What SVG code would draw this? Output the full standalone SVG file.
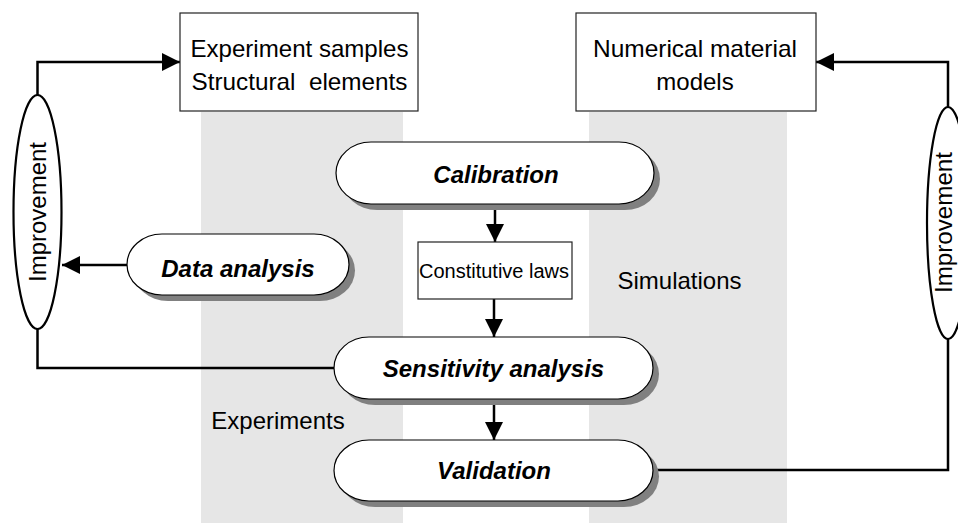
<svg xmlns="http://www.w3.org/2000/svg" width="958" height="526" viewBox="0 0 958 526">
<style>
.band{fill:#e6e6e6}
.box{fill:#fff;stroke:#222;stroke-width:1.2}
.pill{fill:#fff;stroke:#000;stroke-width:1.2}
.shadow{fill:#808080}
.oval{fill:#fff;stroke:#000;stroke-width:2.2}
.t{font-family:"Liberation Sans",Arial,sans-serif;font-size:24px;fill:#000;text-anchor:middle}
.b{font-weight:bold;font-style:italic}
.s{font-size:20px}
.ln{fill:none;stroke:#000;stroke-width:2.5}
</style>
<defs>
<marker id="ah" markerUnits="userSpaceOnUse" markerWidth="19" markerHeight="18" refX="18" refY="9" orient="auto">
<path d="M0,0 L18,9 L0,18 z" fill="#000"/>
</marker>
</defs>
<g id="bands">
<rect class="band" x="201" y="112" width="202" height="411"/>
<rect class="band" x="589" y="112" width="198" height="411"/>
</g>
<g id="connectors">
<path class="ln" d="M37.5,95 V62 H180" marker-end="url(#ah)"/>
<path class="ln" d="M948,107 V62 H816" marker-end="url(#ah)"/>
<path class="ln" d="M127,265 H62" marker-end="url(#ah)"/>
<path class="ln" d="M37.5,329 V368 H334"/>
<path class="ln" d="M653,470 H948 V339"/>
<path class="ln" d="M495,204 V242" marker-end="url(#ah)"/>
<path class="ln" d="M494,299 V337" marker-end="url(#ah)"/>
<path class="ln" d="M494,399 V440" marker-end="url(#ah)"/>
</g>
<g id="experiment-samples">
<rect class="box" x="180" y="13" width="238" height="98"/>
<text class="t" x="299.5" y="57" textLength="218" lengthAdjust="spacingAndGlyphs">Experiment samples</text>
<text class="t" x="299.5" y="90" textLength="216" lengthAdjust="spacingAndGlyphs" xml:space="preserve">Structural  elements</text>
</g>
<g id="numerical-models">
<rect class="box" x="576" y="13" width="240" height="98"/>
<text class="t" x="695" y="57" textLength="204" lengthAdjust="spacingAndGlyphs">Numerical material</text>
<text class="t" x="695" y="90">models</text>
</g>
<g id="improvement-left">
<ellipse class="oval" cx="37.5" cy="212" rx="24" ry="117"/>
<text class="t" transform="translate(37.5,212) rotate(-90)" x="0" y="8.5" textLength="140" lengthAdjust="spacingAndGlyphs">Improvement</text>
</g>
<g id="improvement-right">
<ellipse class="oval" cx="948" cy="223" rx="21" ry="116"/>
<text class="t" transform="translate(943,222.5) rotate(-90)" x="0" y="8.5" textLength="141" lengthAdjust="spacingAndGlyphs">Improvement</text>
</g>
<g id="calibration">
<rect class="shadow" x="342" y="148" width="318" height="62" rx="35" ry="31"/>
<rect class="pill" x="336" y="142" width="318" height="62" rx="35" ry="31"/>
<text class="t b" x="496" y="183">Calibration</text>
</g>
<g id="data-analysis">
<rect class="shadow" x="133" y="240" width="222" height="61" rx="35" ry="30.5"/>
<rect class="pill" x="127" y="234" width="222" height="61" rx="35" ry="30.5"/>
<text class="t b" x="238" y="277">Data analysis</text>
</g>
<g id="constitutive-laws">
<rect class="box" x="418" y="242" width="154" height="57" stroke-width="1"/>
<text class="t s" x="494" y="278" textLength="150" lengthAdjust="spacingAndGlyphs">Constitutive laws</text>
</g>
<g id="sensitivity-analysis">
<rect class="shadow" x="340" y="343" width="319" height="62" rx="35" ry="31"/>
<rect class="pill" x="334" y="337" width="319" height="62" rx="35" ry="31"/>
<text class="t b" x="493.5" y="377">Sensitivity analysis</text>
</g>
<g id="validation">
<rect class="shadow" x="340" y="446" width="319" height="61" rx="35" ry="30.5"/>
<rect class="pill" x="334" y="440" width="319" height="61" rx="35" ry="30.5"/>
<text class="t b" x="494" y="479">Validation</text>
</g>
<g id="labels">
<text class="t" x="679.5" y="289">Simulations</text>
<text class="t" x="278" y="429">Experiments</text>
</g>
</svg>
